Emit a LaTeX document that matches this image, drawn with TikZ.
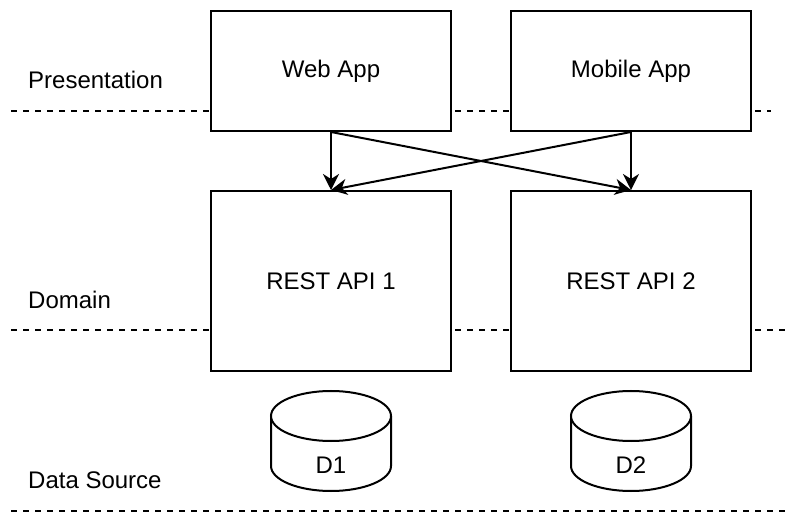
\documentclass[tikz,border=0pt]{standalone}
\usepackage{fontspec}
\setmainfont{Liberation Sans}
\usetikzlibrary{arrows.meta}

\begin{document}
\begin{tikzpicture}[
    x=1pt, y=-1pt,
    box/.style={rectangle, draw=black, line width=2pt, fill=white,
        minimum width=240pt, minimum height=120pt, inner sep=0pt, font=\fontsize{24}{28}\selectfont},
    api/.style={box, minimum height=180pt},
    dbline/.style={draw=black, line width=2pt, fill=white},
    txt/.style={inner sep=0pt, font=\fontsize{24}{28}\selectfont},
    layer/.style={txt, anchor=west},
    lane/.style={line width=2pt, dash pattern=on 6pt off 6pt},
    edge/.style={line width=2pt, -{Stealth[length=16pt,width=16pt,inset=5pt]}}
]
    \useasboundingbox (0,0) rectangle (806,526);
    % layer lines
    \coordinate (p1) at (11,111);
    \coordinate (p2) at (771,111);
    \coordinate (m1) at (11,330);
    \coordinate (m2) at (786,330);
    \coordinate (s1) at (11,511);
    \coordinate (s2) at (786,511);
    \draw[lane] (p1) -- (p2);
    \draw[lane] (m1) -- (m2);
    \draw[lane] (s1) -- (s2);
    \node[layer] (pres) at (28,80) {Presentation};
    \node[layer] (dom) at (28,300) {Domain};
    \node[layer] (src) at (28,480) {Data Source};
    % boxes
    \node[box] (web) at (331,71) {Web App};
    \node[box] (mob) at (631,71) {Mobile App};
    \node[api] (api1) at (331,281) {REST API 1};
    \node[api] (api2) at (631,281) {REST API 2};
    % databases
    \foreach \nm/\cx in {d1/331, d2/631} {
        \coordinate (\nm) at (\cx,441);
        \draw[dbline] (\cx-60,416) -- (\cx-60,466)
            arc[start angle=180, end angle=0, x radius=60, y radius=25]
            -- (\cx+60,416);
        \draw[dbline] (\cx,416) ellipse[x radius=60, y radius=25];
    }
    \node[txt] (d1text) at (331,465) {D1};
    \node[txt] (d2text) at (631,465) {D2};
    \draw[edge] (web.south) -- (api1.north);
    \draw[edge] (web.south) -- (api2.north);
    \draw[edge] (mob.south) -- (api1.north);
    \draw[edge] (mob.south) -- (api2.north);
\end{tikzpicture}
\end{document}
